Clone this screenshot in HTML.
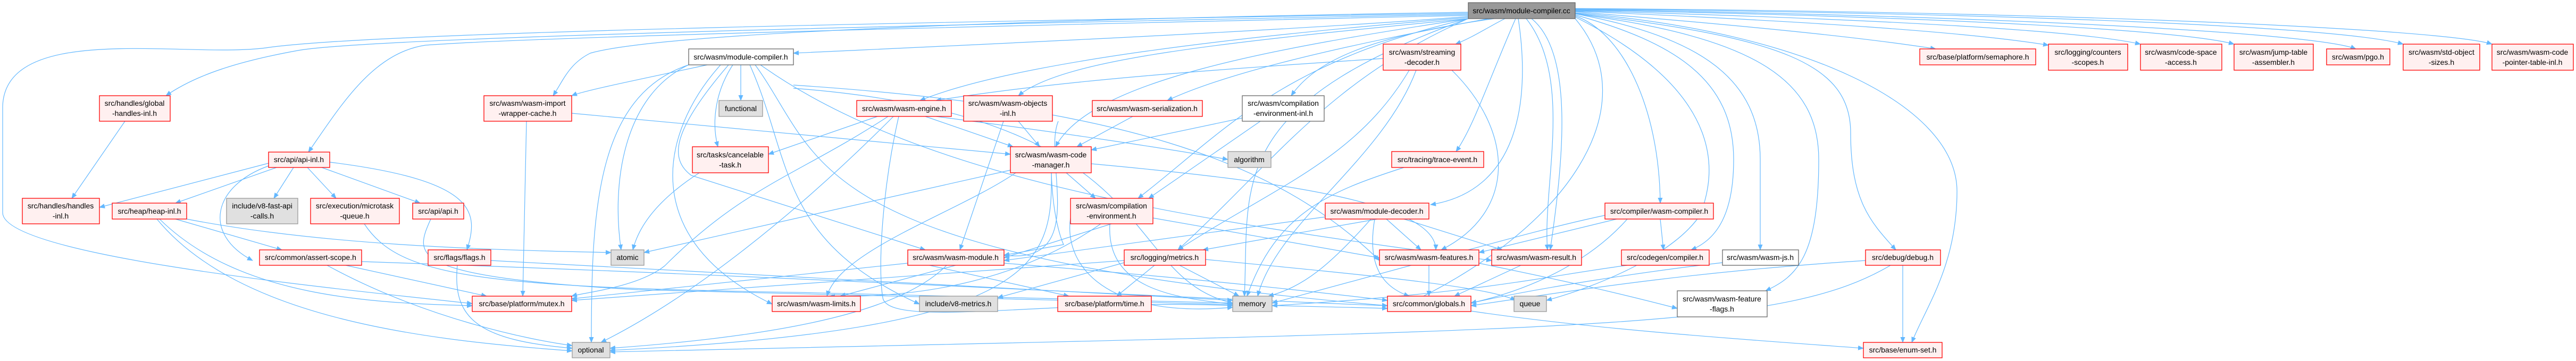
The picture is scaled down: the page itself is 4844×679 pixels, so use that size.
<!DOCTYPE html>
<html><head><meta charset="utf-8"><style>
html,body{margin:0;padding:0;background:#fff;}
svg{display:block;}
text{font-family:"Liberation Sans",sans-serif;font-size:14px;fill:#000;text-anchor:middle;}
.r{fill:#fff0f0;stroke:#ff0000;stroke-width:1.3;}
.g{fill:#e0e0e0;stroke:#999;stroke-width:1.3;}
.w{fill:#fff;stroke:#666;stroke-width:1.3;}
.root{fill:#999;stroke:#666;stroke-width:1.3;}
.e path{fill:none;stroke:#63b8ff;stroke-width:1.2;}
</style></head><body>
<svg width="4844" height="679" viewBox="0 0 4844 679" xmlns="http://www.w3.org/2000/svg">
<defs><marker id="a" markerWidth="11" markerHeight="9" refX="10" refY="4.5" orient="auto" markerUnits="userSpaceOnUse"><path d="M0,0 L11,4.5 L0,9z" fill="#63b8ff"/></marker></defs>
<g class="e" marker-end="url(#a)">
<path marker-end="url(#a)" d="M2761,25 C1800,40 700,60 500,90 C350,110 10,40 5,200 L5,400 C5,480 600,540 888,571"/>
<path marker-end="url(#a)" d="M2761,27 C1800,45 700,70 560,95 C450,115 370,140 312,180"/>
<path marker-end="url(#a)" d="M2761,29 C1800,50 1000,70 800,85 C700,100 640,200 580,286"/>
<path marker-end="url(#a)" d="M2761,23 C2000,35 1250,60 1110,100 C1070,120 1060,150 1040,180"/>
<path marker-end="url(#a)" d="M2761,31 C2400,60 1700,90 1492,100"/>
<path marker-end="url(#a)" d="M2761,33 C2300,70 1900,120 1730,189"/>
<path marker-end="url(#a)" d="M2761,35 C2300,80 2000,110 1915,180"/>
<path marker-end="url(#a)" d="M2761,35 C2400,90 2050,150 1985,276"/>
<path marker-end="url(#a)" d="M2800,35 C2500,90 2300,140 2195,189"/>
<path marker-end="url(#a)" d="M2810,35 C2560,70 2470,120 2428,180"/>
<path marker-end="url(#a)" d="M2830,35 C2800,50 2770,70 2737,83"/>
<path marker-end="url(#a)" d="M2850,35 C2800,150 2770,240 2738,285"/>
<path marker-end="url(#a)" d="M2855,35 C2880,200 2850,360 2690,385"/>
<path marker-end="url(#a)" d="M2761,35 C2400,120 2300,250 2140,373"/>
<path marker-end="url(#a)" d="M2761,35 C2500,150 2400,300 2215,470"/>
<path marker-end="url(#a)" d="M2870,35 C2960,150 2900,350 2910,470"/>
<path marker-end="url(#a)" d="M2880,35 C2960,100 2940,300 2915,470"/>
<path marker-end="url(#a)" d="M2761,35 C2300,200 2350,350 2340,557"/>
<path marker-end="url(#a)" d="M2962,30 C3050,60 3120,200 3122,382"/>
<path marker-end="url(#a)" d="M2962,28 C3150,80 3260,150 3260,300 C3260,400 3230,450 3180,470"/>
<path marker-end="url(#a)" d="M2962,26 C3200,70 3310,150 3310,300 L3310,470"/>
<path marker-end="url(#a)" d="M2962,26 C3300,70 3420,150 3420,300 C3420,480 3380,520 3320,547"/>
<path marker-end="url(#a)" d="M2962,25 C3350,70 3480,120 3480,250 C3480,380 3520,420 3565,470"/>
<path marker-end="url(#a)" d="M2962,24 C3400,60 3680,200 3680,360 C3680,500 3620,580 3595,644"/>
<path marker-end="url(#a)" d="M2962,22 C3300,50 3500,70 3640,92"/>
<path marker-end="url(#a)" d="M2962,21 C3400,40 3700,60 3852,85"/>
<path marker-end="url(#a)" d="M2962,20 C3500,35 3900,55 4025,83"/>
<path marker-end="url(#a)" d="M2962,19 C3600,30 4100,55 4201,83"/>
<path marker-end="url(#a)" d="M2962,18 C3700,28 4350,60 4430,92"/>
<path marker-end="url(#a)" d="M2962,17 C3800,25 4400,50 4519,83"/>
<path marker-end="url(#a)" d="M2962,16 C3900,22 4600,55 4686,83"/>
<path marker-end="url(#a)" d="M2962,35 C3100,200 2950,430 2640,575"/>
<path marker-end="url(#a)" d="M1330,122 C1200,150 1100,170 1075,180"/>
<path marker-end="url(#a)" d="M1393,122 L1393,189"/>
<path marker-end="url(#a)" d="M1378,122 C1340,180 1340,240 1350,276"/>
<path marker-end="url(#a)" d="M1295,122 C1170,180 1150,350 1168,470"/>
<path marker-end="url(#a)" d="M1295,122 C1120,180 1112,400 1112,644"/>
<path marker-end="url(#a)" d="M1355,122 C1240,250 1200,450 1452,572"/>
<path marker-end="url(#a)" d="M1410,122 C1490,300 1460,450 1729,572"/>
<path marker-end="url(#a)" d="M1370,122 C1260,250 1260,300 1300,330 L1740,470"/>
<path marker-end="url(#a)" d="M1420,122 C1550,300 1500,480 2609,575"/>
<path marker-end="url(#a)" d="M1492,160 C2100,200 2400,300 2594,490"/>
<path marker-end="url(#a)" d="M1492,166 C2200,220 2100,520 2318,570"/>
<path marker-end="url(#a)" d="M1430,122 C1750,350 2300,420 2805,490"/>
<path marker-end="url(#a)" d="M1650,219 L1445,290"/>
<path marker-end="url(#a)" d="M1670,219 C1500,330 1400,350 1250,500 C1200,540 1100,550 1075,557"/>
<path marker-end="url(#a)" d="M1680,219 C1500,400 1300,560 1130,644"/>
<path marker-end="url(#a)" d="M1740,219 L1905,276"/>
<path marker-end="url(#a)" d="M1690,219 C1660,350 1650,500 1660,560 C1670,620 2000,560 2318,575"/>
<path marker-end="url(#a)" d="M1760,219 C2000,250 2200,280 2309,300"/>
<path marker-end="url(#a)" d="M1915,228 L1955,276"/>
<path marker-end="url(#a)" d="M1887,228 L1805,470"/>
<path marker-end="url(#a)" d="M1990,228 C1960,300 2050,500 1888,480"/>
<path marker-end="url(#a)" d="M1900,320 L1211,475"/>
<path marker-end="url(#a)" d="M1910,325 C1800,400 1580,470 1555,557"/>
<path marker-end="url(#a)" d="M2005,325 L2060,373"/>
<path marker-end="url(#a)" d="M2052,308 C2400,340 2700,380 2700,470"/>
<path marker-end="url(#a)" d="M1977,325 C1980,420 2000,460 2000,460 L1888,480"/>
<path marker-end="url(#a)" d="M1977,325 C1980,500 1950,620 1147,659"/>
<path marker-end="url(#a)" d="M1315,325 C1230,380 1200,430 1190,470"/>
<path marker-end="url(#a)" d="M990,228 L983,557"/>
<path marker-end="url(#a)" d="M1075,213 L1900,290"/>
<path marker-end="url(#a)" d="M235,228 L135,373"/>
<path marker-end="url(#a)" d="M505,307 L187,390"/>
<path marker-end="url(#a)" d="M520,315 L330,382"/>
<path marker-end="url(#a)" d="M552,315 L515,373"/>
<path marker-end="url(#a)" d="M578,315 L632,373"/>
<path marker-end="url(#a)" d="M605,315 L790,382"/>
<path marker-end="url(#a)" d="M620,305 C900,340 900,400 878,470"/>
<path marker-end="url(#a)" d="M505,312 C400,350 380,440 475,490"/>
<path marker-end="url(#a)" d="M330,412 L530,470"/>
<path marker-end="url(#a)" d="M300,412 C450,560 700,570 888,575"/>
<path marker-end="url(#a)" d="M295,412 C450,600 800,640 1076,660"/>
<path marker-end="url(#a)" d="M351,412 C600,460 900,470 1149,475"/>
<path marker-end="url(#a)" d="M650,499 L915,557"/>
<path marker-end="url(#a)" d="M615,499 C800,600 1000,640 1076,650"/>
<path marker-end="url(#a)" d="M680,492 C1500,520 2200,560 2609,575"/>
<path marker-end="url(#a)" d="M860,499 C850,600 900,640 1076,655"/>
<path marker-end="url(#a)" d="M923,490 C1500,520 2000,550 2318,565"/>
<path marker-end="url(#a)" d="M685,421 C750,520 900,540 1500,550 C2000,560 2200,565 2318,570"/>
<path marker-end="url(#a)" d="M810,412 C780,480 760,520 1200,545 C1900,560 2300,575 2609,580"/>
<path marker-end="url(#a)" d="M2090,421 L1888,485"/>
<path marker-end="url(#a)" d="M2070,421 C1900,540 1700,560 1560,557"/>
<path marker-end="url(#a)" d="M2087,421 C2080,540 2200,560 2318,572"/>
<path marker-end="url(#a)" d="M2168,410 L2594,485"/>
<path marker-end="url(#a)" d="M2013,410 C2000,500 2080,600 2318,578"/>
<path marker-end="url(#a)" d="M2370,228 L2160,373"/>
<path marker-end="url(#a)" d="M2336,222 L2052,282"/>
<path marker-end="url(#a)" d="M2130,219 L2025,276"/>
<path marker-end="url(#a)" d="M2650,132 C2550,300 2400,350 2215,470"/>
<path marker-end="url(#a)" d="M2663,132 C2600,300 2400,420 2365,557"/>
<path marker-end="url(#a)" d="M2730,132 C2850,250 2850,400 2710,470"/>
<path marker-end="url(#a)" d="M2601,110 C2300,130 2000,150 1760,189"/>
<path marker-end="url(#a)" d="M2590,412 L2262,470"/>
<path marker-end="url(#a)" d="M2578,412 C2500,500 2450,540 2385,557"/>
<path marker-end="url(#a)" d="M2585,412 C2570,500 2600,540 2650,557"/>
<path marker-end="url(#a)" d="M2607,412 L2672,470"/>
<path marker-end="url(#a)" d="M2640,412 L2825,470"/>
<path marker-end="url(#a)" d="M2492,408 L1888,490"/>
<path marker-end="url(#a)" d="M2171,499 L2100,557"/>
<path marker-end="url(#a)" d="M2218,499 L2330,557"/>
<path marker-end="url(#a)" d="M2267,488 C2600,520 2800,540 2850,565"/>
<path marker-end="url(#a)" d="M2114,490 C1700,520 1300,550 1075,565"/>
<path marker-end="url(#a)" d="M2114,494 L1876,560"/>
<path marker-end="url(#a)" d="M2687,499 L2687,557"/>
<path marker-end="url(#a)" d="M2781,495 C2900,520 3000,540 3154,580"/>
<path marker-end="url(#a)" d="M2860,499 L2735,557"/>
<path marker-end="url(#a)" d="M2640,315 C2500,360 2400,400 2345,557"/>
<path marker-end="url(#a)" d="M1797,499 L1580,557"/>
<path marker-end="url(#a)" d="M1780,499 C1700,580 1500,630 1147,655"/>
<path marker-end="url(#a)" d="M1707,495 L1075,562"/>
<path marker-end="url(#a)" d="M1888,495 C2200,520 2400,540 2609,565"/>
<path marker-end="url(#a)" d="M1707,490 L2010,557"/>
<path marker-end="url(#a)" d="M3040,412 L2781,475"/>
<path marker-end="url(#a)" d="M3122,412 L3128,470"/>
<path marker-end="url(#a)" d="M3060,412 C3000,480 2900,540 2766,570"/>
<path marker-end="url(#a)" d="M3018,405 C2900,430 2800,460 2392,570"/>
<path marker-end="url(#a)" d="M3060,499 C2900,520 2800,550 2392,575"/>
<path marker-end="url(#a)" d="M3239,494 C3100,510 2900,540 2766,570"/>
<path marker-end="url(#a)" d="M3508,490 C3200,510 3000,540 2766,575"/>
<path marker-end="url(#a)" d="M3555,499 C3350,620 3000,620 1147,662"/>
<path marker-end="url(#a)" d="M3578,499 L3578,644"/>
<path marker-end="url(#a)" d="M2766,585 C3000,620 3300,640 3504,655"/>
<path marker-end="url(#a)" d="M2962,32 C3300,200 3200,380 3200,400 C3150,480 3000,540 2908,565"/>
</g>
<rect class="root" x="2761" y="5" width="201" height="30"/><text x="2861" y="25">src/wasm/module-compiler.cc</text>
<rect class="r" x="187" y="180" width="133" height="48"/><text x="253" y="199">src/handles/global</text><text x="253" y="218">-handles-inl.h</text>
<rect class="r" x="505" y="286" width="115" height="29"/><text x="562" y="305">src/api/api-inl.h</text>
<rect class="r" x="42" y="373" width="145" height="48"/><text x="114" y="392">src/handles/handles</text><text x="114" y="411">-inl.h</text>
<rect class="r" x="211" y="382" width="140" height="30"/><text x="281" y="402">src/heap/heap-inl.h</text>
<rect class="g" x="426" y="373" width="134" height="48"/><text x="493" y="392">include/v8-fast-api</text><text x="493" y="411">-calls.h</text>
<rect class="r" x="584" y="373" width="167" height="48"/><text x="667" y="392">src/execution/microtask</text><text x="667" y="411">-queue.h</text>
<rect class="r" x="776" y="382" width="96" height="30"/><text x="824" y="402">src/api/api.h</text>
<rect class="r" x="488" y="470" width="192" height="29"/><text x="584" y="489">src/common/assert-scope.h</text>
<rect class="r" x="805" y="470" width="118" height="29"/><text x="864" y="489">src/flags/flags.h</text>
<rect class="r" x="888" y="557" width="187" height="29"/><text x="981" y="576">src/base/platform/mutex.h</text>
<rect class="r" x="910" y="180" width="165" height="48"/><text x="992" y="199">src/wasm/wasm-import</text><text x="992" y="218">-wrapper-cache.h</text>
<rect class="w" x="1295" y="92" width="197" height="30"/><text x="1393" y="112">src/wasm/module-compiler.h</text>
<rect class="g" x="1352" y="189" width="82" height="30"/><text x="1393" y="209">functional</text>
<rect class="r" x="1611" y="189" width="178" height="30"/><text x="1700" y="209">src/wasm/wasm-engine.h</text>
<rect class="r" x="1812" y="180" width="167" height="48"/><text x="1895" y="199">src/wasm/wasm-objects</text><text x="1895" y="218">-inl.h</text>
<rect class="r" x="1302" y="276" width="143" height="49"/><text x="1373" y="296">src/tasks/cancelable</text><text x="1373" y="315">-task.h</text>
<rect class="r" x="1900" y="276" width="152" height="49"/><text x="1976" y="296">src/wasm/wasm-code</text><text x="1976" y="315">-manager.h</text>
<rect class="g" x="1149" y="470" width="62" height="29"/><text x="1180" y="489">atomic</text>
<rect class="r" x="1707" y="470" width="181" height="29"/><text x="1797" y="489">src/wasm/wasm-module.h</text>
<rect class="r" x="1452" y="557" width="166" height="29"/><text x="1535" y="576">src/wasm/wasm-limits.h</text>
<rect class="g" x="1729" y="557" width="147" height="29"/><text x="1802" y="576">include/v8-metrics.h</text>
<rect class="g" x="1076" y="644" width="71" height="29"/><text x="1111" y="663">optional</text>
<rect class="r" x="2601" y="83" width="146" height="49"/><text x="2674" y="103">src/wasm/streaming</text><text x="2674" y="122">-decoder.h</text>
<rect class="r" x="2054" y="189" width="207" height="30"/><text x="2157" y="209">src/wasm/wasm-serialization.h</text>
<rect class="w" x="2336" y="180" width="154" height="48"/><text x="2413" y="199">src/wasm/compilation</text><text x="2413" y="218">-environment-inl.h</text>
<rect class="g" x="2309" y="285" width="81" height="30"/><text x="2349" y="305">algorithm</text>
<rect class="r" x="2617" y="285" width="173" height="30"/><text x="2703" y="305">src/tracing/trace-event.h</text>
<rect class="r" x="2013" y="373" width="155" height="48"/><text x="2090" y="392">src/wasm/compilation</text><text x="2090" y="411">-environment.h</text>
<rect class="r" x="2492" y="382" width="195" height="30"/><text x="2589" y="402">src/wasm/module-decoder.h</text>
<rect class="r" x="2114" y="470" width="153" height="29"/><text x="2190" y="489">src/logging/metrics.h</text>
<rect class="r" x="2594" y="470" width="187" height="29"/><text x="2687" y="489">src/wasm/wasm-features.h</text>
<rect class="r" x="2805" y="470" width="169" height="29"/><text x="2889" y="489">src/wasm/wasm-result.h</text>
<rect class="r" x="1989" y="557" width="176" height="29"/><text x="2077" y="576">src/base/platform/time.h</text>
<rect class="g" x="2318" y="557" width="74" height="29"/><text x="2355" y="576">memory</text>
<rect class="r" x="2609" y="557" width="157" height="29"/><text x="2687" y="576">src/common/globals.h</text>
<rect class="g" x="2847" y="557" width="61" height="29"/><text x="2877" y="576">queue</text>
<rect class="r" x="3610" y="92" width="218" height="30"/><text x="3719" y="112">src/base/platform/semaphore.h</text>
<rect class="r" x="3852" y="83" width="149" height="49"/><text x="3926" y="103">src/logging/counters</text><text x="3926" y="122">-scopes.h</text>
<rect class="r" x="3018" y="382" width="204" height="30"/><text x="3120" y="402">src/compiler/wasm-compiler.h</text>
<rect class="r" x="3049" y="470" width="165" height="29"/><text x="3131" y="489">src/codegen/compiler.h</text>
<rect class="w" x="3239" y="470" width="143" height="29"/><text x="3310" y="489">src/wasm/wasm-js.h</text>
<rect class="r" x="3508" y="470" width="141" height="29"/><text x="3578" y="489">src/debug/debug.h</text>
<rect class="w" x="3154" y="547" width="169" height="49"/><text x="3238" y="567">src/wasm/wasm-feature</text><text x="3238" y="586">-flags.h</text>
<rect class="r" x="3504" y="644" width="148" height="29"/><text x="3578" y="663">src/base/enum-set.h</text>
<rect class="r" x="4025" y="83" width="153" height="49"/><text x="4101" y="103">src/wasm/code-space</text><text x="4101" y="122">-access.h</text>
<rect class="r" x="4201" y="83" width="149" height="49"/><text x="4275" y="103">src/wasm/jump-table</text><text x="4275" y="122">-assembler.h</text>
<rect class="r" x="4375" y="92" width="119" height="30"/><text x="4434" y="112">src/wasm/pgo.h</text>
<rect class="r" x="4519" y="83" width="144" height="49"/><text x="4591" y="103">src/wasm/std-object</text><text x="4591" y="122">-sizes.h</text>
<rect class="r" x="4686" y="83" width="153" height="49"/><text x="4762" y="103">src/wasm/wasm-code</text><text x="4762" y="122">-pointer-table-inl.h</text>
</svg>
</body></html>
